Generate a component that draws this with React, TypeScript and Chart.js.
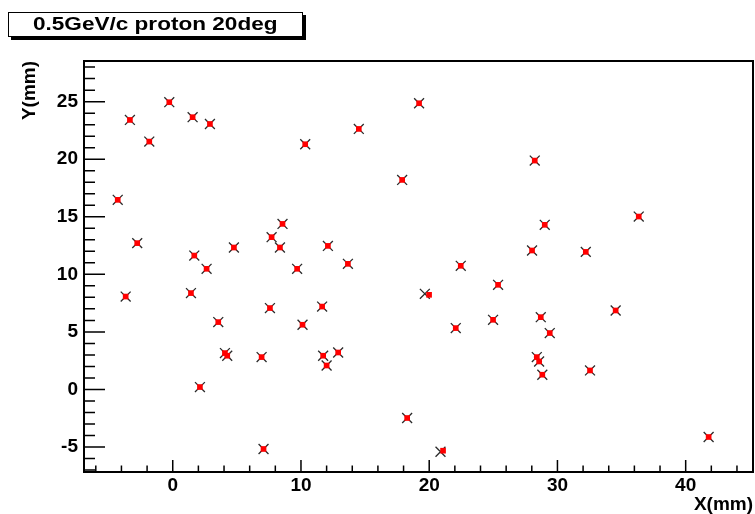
import React, { useEffect, useRef } from 'react';
import { Chart, registerables } from 'chart.js';

Chart.register(...registerables);

const TITLE = '0.5GeV/c proton 20deg';
const X_LABEL = 'X(mm)';
const Y_LABEL = 'Y(mm)';

// Black "x" markers
const crossX = [
  -4.29, -3.34, -1.83, -0.27, 1.55, 2.9, -3.67, -2.77, 1.68, 2.64, 1.42, 4.77, 3.55, 4.07, 4.25,
  2.12, 6.93, 7.08, 7.58, 7.71, 8.36, 8.56, 9.7, 10.12, 10.33, 11.65, 11.73, 12.0, 12.1, 12.9,
  13.66, 14.51, 17.89, 18.28, 19.21, 19.66, 20.88, 22.07, 22.46, 24.98, 25.37, 28.23, 28.02,
  29.01, 28.39, 28.57, 28.82, 28.7, 29.4, 32.21, 32.54, 34.54, 36.34, 41.79,
];
const crossY = [
  16.47, 23.41, 21.53, 24.95, 23.65, 23.06, 8.07, 12.71, 11.63, 10.48, 8.37, 12.33, 5.85, 3.16, 2.93,
  0.21, 2.81, -5.17, 7.07, 13.23, 12.33, 14.38, 10.48, 5.62, 21.3, 7.2, 2.93, 2.08, 12.47, 3.21,
  10.91, 22.63, 18.2, -2.48, 24.86, 8.31, -5.41, 5.33, 10.74, 6.05, 9.09, 19.88, 12.07,
  14.3, 2.81, 2.43, 1.28, 6.28, 4.9, 11.95, 1.65, 6.86, 15.02, -4.13,
];

// Red square markers
const squareX = [
  -4.29, -3.34, -1.83, -0.27, 1.55, 2.9, -3.67, -2.77, 1.68, 2.64, 1.42, 4.77, 3.55, 4.07, 4.25,
  2.12, 6.93, 7.08, 7.58, 7.71, 8.36, 8.56, 9.7, 10.12, 10.33, 11.65, 11.73, 12.0, 12.1, 12.9,
  13.66, 14.51, 17.89, 18.28, 19.21, 19.99, 21.08, 22.07, 22.46, 24.98, 25.37, 28.23, 28.02,
  29.01, 28.39, 28.57, 28.82, 28.7, 29.4, 32.21, 32.54, 34.54, 36.34, 41.79,
];
const squareY = [
  16.47, 23.41, 21.53, 24.95, 23.65, 23.06, 8.07, 12.71, 11.63, 10.48, 8.37, 12.33, 5.85, 3.16, 2.93,
  0.21, 2.81, -5.17, 7.07, 13.23, 12.33, 14.38, 10.48, 5.62, 21.3, 7.2, 2.93, 2.08, 12.47, 3.21,
  10.91, 22.63, 18.2, -2.48, 24.86, 8.22, -5.32, 5.33, 10.74, 6.05, 9.09, 19.88, 12.07,
  14.3, 2.81, 2.43, 1.28, 6.28, 4.9, 11.95, 1.65, 6.86, 15.02, -4.13,
];

const xMajorTicks = [0, 10, 20, 30, 40];
const yMajorTicks = [-5, 0, 5, 10, 15, 20, 25];
const X_MIN = -6.92;
const X_MAX = 45.25;
const Y_MIN = -7.17;
const Y_MAX = 28.53;
const X_MINOR_STEP = 2;
const Y_MINOR_STEP = 1;

const FONT = "'Liberation Sans', Arial, Helvetica, sans-serif";

const framePlugin = {
  id: 'rootFrame',
  beforeDatasetsDraw(chart: any) {
    const { ctx, chartArea: a, scales } = chart;
    const xs = scales.x;
    const ys = scales.y;
    ctx.save();
    ctx.strokeStyle = '#000';
    ctx.lineWidth = 1.5;
    ctx.beginPath();
    for (let i = Math.ceil(X_MIN / X_MINOR_STEP); i * X_MINOR_STEP <= X_MAX; i++) {
      const v = i * X_MINOR_STEP;
      const px = xs.getPixelForValue(v);
      const major = xMajorTicks.includes(v);
      const len = major ? 12 : 6.5;
      ctx.moveTo(px, a.bottom);
      ctx.lineTo(px, a.bottom - len);
    }
    for (let i = Math.ceil(Y_MIN / Y_MINOR_STEP); i * Y_MINOR_STEP <= Y_MAX; i++) {
      const v = i * Y_MINOR_STEP;
      const py = ys.getPixelForValue(v);
      const major = yMajorTicks.includes(v);
      const len = major ? 21 : 11;
      ctx.moveTo(a.left, py);
      ctx.lineTo(a.left + len, py);
    }
    ctx.stroke();
    ctx.lineWidth = 2;
    ctx.strokeRect(a.left, a.top, a.right - a.left, a.bottom - a.top);
    ctx.restore();
  },
};

export default function App() {
  const canvasRef = useRef<HTMLCanvasElement | null>(null);

  useEffect(() => {
    const canvas = canvasRef.current;
    if (!canvas) return;
    const crossData = crossX.map((x, i) => ({ x, y: crossY[i] }));
    const squareData = squareX.map((x, i) => ({ x, y: squareY[i] }));
    const tickFont = { family: FONT, size: 19, weight: 'bold' as const };
    const chart = new Chart(canvas, {
      type: 'scatter',
      data: {
        datasets: [
          {
            label: 'fit',
            data: squareData,
            pointStyle: 'rect',
            pointRadius: 4,
            backgroundColor: '#ff0000',
            borderColor: '#ff0000',
            borderWidth: 0,
            order: 0,
          },
          {
            label: 'hits',
            data: crossData,
            pointStyle: 'crossRot',
            pointRadius: 7,
            borderColor: '#2a2a2a',
            backgroundColor: '#2a2a2a',
            borderWidth: 1.3,
            order: 1,
          },
        ],
      },
      options: {
        animation: false,
        responsive: true,
        maintainAspectRatio: false,
        layout: { autoPadding: false, padding: { top: 61, right: 2, bottom: 0, left: 0 } },
        plugins: {
          legend: { display: false },
          tooltip: { enabled: false },
          title: { display: false },
        },
        scales: {
          x: {
            type: 'linear',
            min: X_MIN,
            max: X_MAX,
            afterBuildTicks: (s: any) => {
              s.ticks = xMajorTicks.map((v) => ({ value: v }));
            },
            afterFit: (s: any) => {
              s.height = 42;
            },
            grid: { display: false, drawTicks: false },
            border: { display: false },
            ticks: {
              font: tickFont,
              color: '#000',
              padding: 2,
              maxRotation: 0,
              autoSkip: false,
            },
            title: {
              display: true,
              text: X_LABEL,
              align: 'end',
              color: '#000',
              font: { family: FONT, size: 19, weight: 'bold', lineHeight: 1 },
              padding: 0,
            },
          },
          y: {
            type: 'linear',
            min: Y_MIN,
            max: Y_MAX,
            afterBuildTicks: (s: any) => {
              s.ticks = yMajorTicks.map((v) => ({ value: v }));
            },
            afterFit: (s: any) => {
              s.width = 84;
            },
            grid: { display: false, drawTicks: false },
            border: { display: false },
            ticks: {
              font: tickFont,
              color: '#000',
              padding: 6,
              autoSkip: false,
            },
            title: {
              display: true,
              text: Y_LABEL,
              align: 'end',
              color: '#000',
              font: { family: FONT, size: 19, weight: 'bold', lineHeight: 1 },
              padding: { top: 20, bottom: 0 },
            },
          },
        },
      },
      plugins: [framePlugin],
    });
    return () => chart.destroy();
  }, []);

  return (
    <div style={{ position: 'fixed', left: 0, top: 0, width: 755, height: 514, background: '#fff' }}>
      <canvas ref={canvasRef} />
      <div
        style={{
          position: 'absolute',
          left: 8,
          top: 12,
          width: 295,
          height: 25,
          boxSizing: 'border-box',
          border: '1px solid #000',
          boxShadow: '3px 3px 0 #000',
          background: '#fff',
          display: 'flex',
          alignItems: 'center',
          justifyContent: 'center',
          overflow: 'visible',
        }}
      >
        <span
          style={{
            fontFamily: FONT,
            fontWeight: 'bold',
            fontSize: '18.5px',
            whiteSpace: 'nowrap',
            display: 'inline-block',
            transform: 'scaleX(1.22)',
            lineHeight: 1,
          }}
        >
          {TITLE}
        </span>
      </div>
    </div>
  );
}
